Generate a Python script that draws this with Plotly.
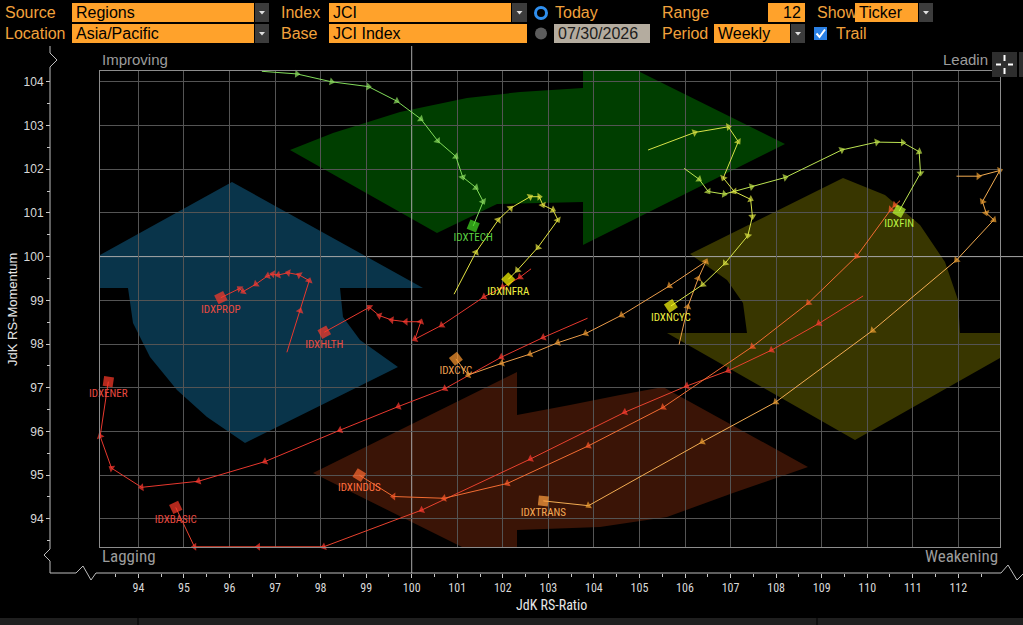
import plotly.graph_objects as go

W, H = 1023, 625


# pixel -> paper helpers for the frame decorations
def fx(p):
    return p / W


def fy(p):
    return 1 - p / H


# JdK RS-Ratio (x) and RS-Momentum (y), 12 weekly readings, last one = current
tech_x = [96.71, 97.48, 98.24, 99.05, 99.67, 100.20, 100.57, 100.97, 101.12, 101.41, 101.57, 101.35]
tech_y = [104.24, 104.18, 104.00, 103.89, 103.56, 103.15, 102.65, 102.29, 101.82, 101.58, 101.26, 100.70]

infra_x = [100.93, 101.41, 101.90, 102.17, 102.60, 102.80, 102.88, 103.10, 103.21, 102.77, 102.32, 102.12]
infra_y = [99.14, 100.10, 100.84, 101.11, 101.37, 101.37, 101.18, 101.07, 100.84, 100.21, 99.69, 99.48]

ncyc_x = [105.19, 106.21, 106.95, 107.17, 106.84, 107.08, 107.44, 107.48, 107.38, 106.88, 106.39, 105.69]
ncyc_y = [102.44, 102.84, 102.97, 102.63, 101.80, 101.49, 101.31, 100.92, 100.48, 99.85, 99.36, 98.87]

fin_x = [105.98, 106.31, 106.51, 106.86, 107.46, 108.20, 109.44, 110.21, 110.78, 111.14, 111.17, 110.70]
fin_y = [102.02, 101.77, 101.49, 101.43, 101.60, 101.81, 102.44, 102.62, 102.61, 102.40, 101.91, 101.04]

prop_x = [97.26, 97.55, 97.75, 97.53, 97.29, 97.07, 96.95, 96.84, 96.58, 96.30, 96.22, 95.81]
prop_y = [97.81, 98.76, 99.45, 99.58, 99.63, 99.58, 99.60, 99.56, 99.37, 99.20, 99.27, 99.06]

hlth_x = [102.62, 102.38, 102.00, 101.59, 100.66, 100.07, 100.20, 99.87, 99.56, 99.29, 99.07, 98.08]
hlth_y = [99.72, 99.53, 99.30, 99.08, 98.43, 98.11, 98.51, 98.51, 98.55, 98.65, 98.84, 98.27]

ener_x = [103.86, 102.89, 101.97, 100.73, 99.71, 98.43, 96.78, 95.32, 94.07, 93.41, 93.16, 93.34]
ener_y = [98.59, 98.15, 97.70, 96.98, 96.57, 96.03, 95.31, 94.86, 94.72, 95.16, 95.89, 97.14]

basic_x = [109.91, 108.94, 107.90, 106.95, 106.04, 104.68, 102.61, 100.22, 98.07, 96.63, 95.23, 94.82]
basic_y = [99.10, 98.47, 97.86, 97.39, 97.04, 96.44, 95.37, 94.20, 93.36, 93.36, 93.36, 94.26]

indus_x = [110.72, 110.61, 110.52, 109.77, 108.71, 107.48, 105.52, 103.88, 102.10, 100.71, 99.60, 98.85]
indus_y = [101.28, 101.18, 101.08, 100.01, 98.94, 97.94, 96.55, 95.67, 94.81, 94.47, 94.51, 95.00]

cyc_x = [105.87, 106.06, 106.29, 106.46, 105.66, 104.61, 103.82, 103.21, 102.60, 101.98, 101.24, 100.97]
cyc_y = [97.99, 98.85, 99.50, 99.89, 99.33, 98.66, 98.24, 98.03, 97.77, 97.56, 97.29, 97.66]

trans_x = [111.96, 112.44, 112.91, 112.53, 112.61, 112.78, 111.96, 110.12, 107.99, 106.38, 103.88, 102.89]
trans_y = [101.84, 101.84, 101.97, 101.26, 101.00, 100.84, 99.92, 98.31, 96.67, 95.76, 94.30, 94.41]

x_ticks = list(range(94, 113))
y_ticks = list(range(94, 105))

# name, x, y, line colour, marker colour, current marker colour, label colour
series = [
    ("IDXENER", ener_x, ener_y, "#e8382e", "#ff3b30", "#ff3a2a", "#e84a40"),
    ("IDXBASIC", basic_x, basic_y, "#e8422e", "#ff3b30", "#ff3a2a", "#e84a40"),
    ("IDXPROP", prop_x, prop_y, "#e8382e", "#ff3b30", "#ff3a2a", "#e84a40"),
    ("IDXHLTH", hlth_x, hlth_y, "#e8382e", "#ff3b30", "#ff3a2a", "#e84a40"),
    ("IDXINDUS", indus_x, indus_y, "#f26c32", "#ff5a2a", "#ff6a30", "#ff7040"),
    ("IDXCYC", cyc_x, cyc_y, "#eb9c4a", "#f09a30", "#ff9a30", "#f0a050"),
    ("IDXTRANS", trans_x, trans_y, "#f2ac52", "#f0a030", "#ffa040", "#f5aa55"),
    ("IDXFIN", fin_x, fin_y, "#bce452", "#c4e84a", "#c0ff30", "#b8f040"),
    ("IDXNCYC", ncyc_x, ncyc_y, "#d8e44a", "#dde640", "#ffff10", "#f0f040"),
    ("IDXINFRA", infra_x, infra_y, "#e4e442", "#e8e840", "#ffff00", "#f0f040"),
    ("IDXTECH", tech_x, tech_y, "#82dc5a", "#8fe060", "#44dd22", "#5ad040"),
]

BASE_FONT = "Liberation Sans, Arial, sans-serif"
NARROW = "Liberation Sans Narrow, Arial Narrow, Roboto Condensed, Liberation Sans, sans-serif"
ORANGE = "#ffa22b"
LABEL_ORANGE = "#f2a23c"

fig = go.Figure()

for name, xs, ys, lc, mc, fc, tc in series:
    n = len(xs)
    fig.add_trace(go.Scatter(
        x=xs, y=ys, mode="lines+markers+text", name=name,
        line=dict(color=lc, width=1),
        marker=dict(symbol=["triangle-up"] * (n - 1) + ["square"],
                    size=[7] * (n - 1) + [10],
                    color=[mc] * (n - 1) + [fc],
                    angleref="previous", line=dict(width=0)),
        text=[""] * (n - 1) + [name],
        textposition="bottom center",
        textfont=dict(family=NARROW, size=11, color=tc),
        cliponaxis=False, hoverinfo="skip", showlegend=False,
    ))

# invisible trace so the detached tick axes get drawn
fig.add_trace(go.Scatter(x=[100], y=[100], xaxis="x2", yaxis="y2", mode="markers",
                         marker=dict(opacity=0), hoverinfo="skip", showlegend=False))

x_range = [93.157, 112.915]
y_range = [93.348, 104.254]
x_dom = [fx(100), fx(1000)]
y_dom = [fy(547.3), fy(70.7)]

grid_x = [v for v in x_ticks if v != 100]
grid_y = [v for v in y_ticks if v != 100]

fig.update_layout(
    width=W, height=H,
    margin=dict(l=0, r=0, t=0, b=0),
    paper_bgcolor="black", plot_bgcolor="black",
    xaxis=dict(domain=x_dom, range=x_range, tickmode="array", tickvals=grid_x,
               showticklabels=False, ticks="", showgrid=True, gridcolor="#545454",
               zeroline=False, showline=True, mirror=True, linecolor="#8c8c8c", fixedrange=True),
    yaxis=dict(domain=y_dom, range=y_range, tickmode="array", tickvals=grid_y,
               showticklabels=False, ticks="", showgrid=True, gridcolor="#545454",
               zeroline=False, showline=True, mirror=True, linecolor="#8c8c8c", fixedrange=True),
    xaxis2=dict(overlaying="x", anchor="free", position=fy(573), range=x_range,
                tickmode="array", tickvals=x_ticks, ticks="outside", ticklen=4,
                tickcolor="#c8c8c8", showgrid=False, zeroline=False, showline=False,
                tickfont=dict(family=NARROW, size=12, color="#d8d8d8"),
                minor=dict(ticks="outside", ticklen=3, dtick=0.5, tick0=0.5,
                           tickcolor="#c8c8c8", showgrid=False),
                fixedrange=True),
    yaxis2=dict(overlaying="y", anchor="free", position=fx(50), side="left", range=y_range,
                tickmode="array", tickvals=y_ticks, ticks="outside", ticklen=4,
                tickcolor="#c8c8c8", showgrid=False, zeroline=False, showline=False,
                tickfont=dict(family=BASE_FONT, size=12, color="#d8d8d8"),
                minor=dict(ticks="outside", ticklen=3, dtick=0.5, tick0=0.5,
                           tickcolor="#c8c8c8", showgrid=False),
                fixedrange=True),
    font=dict(family=BASE_FONT),
)


def poly(pts):
    return "M " + " L ".join(f"{fx(a):.5f},{fy(b):.5f}" for a, b in pts) + " Z"


def line_path(pts):
    return "M " + " L ".join(f"{fx(a):.5f},{fy(b):.5f}" for a, b in pts)


shapes = []
# rotation arrows behind the grid
arrows = [
    ("rgb(0,62,0)", [(290, 150), (333, 133), (400, 112), (467, 98), (520, 92), (583, 88),
                     (583, 71), (638, 71), (785, 144), (583, 245), (583, 202), (497, 204),
                     (437, 233)]),
    ("rgb(9,52,74)", [(100, 255), (232, 182), (423, 288), (340, 288), (343, 317), (360, 340),
                      (398, 367), (245, 443), (207, 417), (177, 390), (150, 357), (133, 323),
                      (128, 288), (100, 288)]),
    ("rgb(58,20,6)", [(313, 473), (517, 372), (517, 415), (570, 405), (620, 395), (663, 387),
                      (808, 467), (733, 493), (667, 517), (600, 527), (517, 530), (517, 547),
                      (462, 547)]),
    ("rgb(56,54,0)", [(690, 254), (843, 178), (885, 195), (920, 225), (945, 262), (958, 300),
                      (960, 333), (1000, 333), (1000, 358), (855, 440), (667, 333), (747, 333),
                      (743, 303), (727, 280)]),
]
for col, pts in arrows:
    shapes.append(dict(type="path", path=poly(pts), xref="paper", yref="paper",
                       fillcolor=col, line=dict(width=0), layer="below"))

# 100 / 100 crosshair lines
shapes.append(dict(type="line", xref="paper", yref="paper", x0=fx(411.7), x1=fx(411.7),
                   y0=fy(573), y1=fy(46), line=dict(color="#a8a8a8", width=1), layer="below"))
shapes.append(dict(type="line", xref="paper", yref="paper", x0=fx(100), x1=1,
                   y0=fy(256.6), y1=fy(256.6), line=dict(color="#a8a8a8", width=1), layer="below"))

# broken axis frame
frame = [(50, 46), (50, 53), (57, 60), (50, 67), (50, 549), (44, 555), (50, 561), (50, 573),
         (76, 573), (83, 566), (91, 580), (96, 573), (1001, 573), (1008, 565), (1017, 580),
         (1023, 574)]
shapes.append(dict(type="path", path=line_path(frame), xref="paper", yref="paper",
                   line=dict(color="#bdbdbd", width=1)))

# header controls
ROW1 = (3, 22)
ROW2 = (24, 43)
fields = [
    (72, 254, ROW1, "Regions", "left", ORANGE, "black"),
    (329, 511, ROW1, "JCI", "left", ORANGE, "black"),
    (768, 805, ROW1, "12", "right", ORANGE, "black"),
    (855, 918, ROW1, "Ticker", "left", ORANGE, "black"),
    (72, 254, ROW2, "Asia/Pacific", "left", ORANGE, "black"),
    (329, 527, ROW2, "JCI Index", "left", ORANGE, "black"),
    (554, 650, ROW2, "07/30/2026", "left", "#b4ac9f", "#1c1c1c"),
    (714, 790, ROW2, "Weekly", "left", ORANGE, "black"),
]
dropdowns = [(255, 269, ROW1), (512, 527, ROW1), (919, 933, ROW1), (255, 269, ROW2), (791, 805, ROW2)]
labels = [(3, ROW1, "Source"), (3, ROW2, "Location"), (279, ROW1, "Index"), (279, ROW2, "Base"),
          (553, ROW1, "Today"), (660, ROW1, "Range"), (660, ROW2, "Period"), (815, ROW1, "Show"),
          (834, ROW2, "Trail")]

annotations = []
for x0, x1, (y0, y1), txt, align, bg, tcol in fields:
    shapes.append(dict(type="rect", xref="paper", yref="paper", x0=fx(x0), x1=fx(x1),
                       y0=fy(y1), y1=fy(y0), fillcolor=bg, line=dict(width=0)))
    annotations.append(dict(text=txt, xref="paper", yref="paper",
                            x=fx(x0 + 2) if align == "left" else fx(x1 - 2),
                            xanchor=align, y=fy((y0 + y1) / 2), yanchor="middle",
                            showarrow=False, font=dict(size=16, color=tcol)))
for x0, x1, (y0, y1) in dropdowns:
    shapes.append(dict(type="rect", xref="paper", yref="paper", x0=fx(x0), x1=fx(x1),
                       y0=fy(y1), y1=fy(y0), fillcolor="#3c3c3c", line=dict(width=0)))
    cx, cy = (x0 + x1) / 2, (y0 + y1) / 2
    shapes.append(dict(type="path", path=poly([(cx - 3, cy - 1.5), (cx + 3, cy - 1.5), (cx, cy + 2)]),
                       xref="paper", yref="paper", fillcolor="#e0e0e0", line=dict(width=0)))
for x0, (y0, y1), txt in labels:
    annotations.append(dict(text=txt, xref="paper", yref="paper", x=fx(x0), xanchor="left",
                            y=fy((y0 + y1) / 2), yanchor="middle", showarrow=False,
                            font=dict(size=16, color=LABEL_ORANGE)))

# radio buttons and trail checkbox
shapes.append(dict(type="circle", xref="paper", yref="paper", x0=fx(535.5), x1=fx(546.5),
                   y0=fy(18.5), y1=fy(7.5), fillcolor="black", line=dict(color="#2f8fee", width=3)))
shapes.append(dict(type="circle", xref="paper", yref="paper", x0=fx(535), x1=fx(547),
                   y0=fy(39.5), y1=fy(27.5), fillcolor="#5c5c5c", line=dict(width=0)))
shapes.append(dict(type="rect", xref="paper", yref="paper", x0=fx(814), x1=fx(827),
                   y0=fy(40), y1=fy(27), fillcolor="#2b80e4", line=dict(width=0)))
shapes.append(dict(type="path", path=line_path([(816.5, 33.5), (819.5, 37), (825, 29.5)]),
                   xref="paper", yref="paper", line=dict(color="white", width=2)))

# zoom button at the top right corner
shapes.append(dict(type="rect", xref="paper", yref="paper", x0=fx(992), x1=fx(1017),
                   y0=fy(77), y1=fy(52), fillcolor="#2e2e2e", line=dict(width=0)))
shapes.append(dict(type="rect", xref="paper", yref="paper", x0=fx(1019), x1=1,
                   y0=fy(77), y1=fy(52), fillcolor="#2e2e2e", line=dict(width=0)))
for seg in [[(996, 64.5), (1001, 64.5)], [(1008, 64.5), (1013, 64.5)],
            [(1004.5, 55), (1004.5, 61)], [(1004.5, 68), (1004.5, 74)]]:
    shapes.append(dict(type="path", path=line_path(seg), xref="paper", yref="paper",
                       line=dict(color="white", width=2)))

# bottom status strip
shapes.append(dict(type="rect", xref="paper", yref="paper", x0=0, x1=1, y0=0, y1=fy(618),
                   fillcolor="#1f1f1f", line=dict(width=0)))
for xs_ in (138, 817):
    shapes.append(dict(type="line", xref="paper", yref="paper", x0=fx(xs_), x1=fx(xs_),
                       y0=0, y1=fy(618), line=dict(color="black", width=1)))

# quadrant names and axis titles
quad = [("Improving", 100, 59, "left", BASE_FONT, 15), ("Leadin", 990, 59, "right", BASE_FONT, 15),
        ("Lagging", 100, 556, "left", NARROW, 17), ("Weakening", 1000, 556, "right", NARROW, 17)]
for txt, x, y, anc, fam, sz in quad:
    annotations.append(dict(text=txt, xref="paper", yref="paper", x=fx(x), xanchor=anc,
                            y=fy(y), yanchor="middle", showarrow=False,
                            font=dict(family=fam, size=sz, color="#9c9c9c")))
annotations.append(dict(text="JdK RS-Ratio", xref="paper", yref="paper", x=fx(551), y=fy(605),
                        xanchor="center", yanchor="middle", showarrow=False,
                        font=dict(family=NARROW, size=14, color="#e6e6e6")))
annotations.append(dict(text="JdK RS-Momentum", xref="paper", yref="paper", x=fx(12), y=fy(310),
                        xanchor="center", yanchor="middle", textangle=-90, showarrow=False,
                        font=dict(size=13, color="#e6e6e6")))

fig.update_layout(shapes=shapes, annotations=annotations)

fig.write_html("out.html", config={"displayModeBar": False},
               post_script="document.body.style.margin='0';")
